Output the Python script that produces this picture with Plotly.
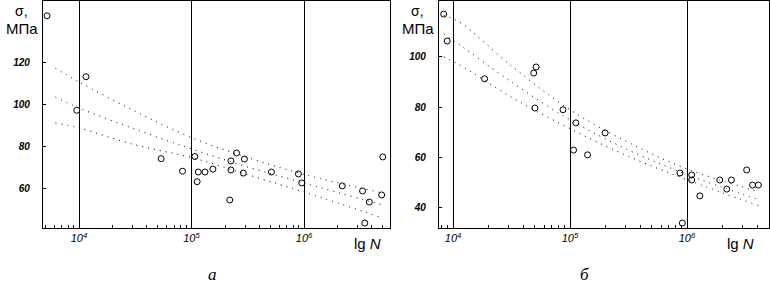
import plotly.graph_objects as go

W, H = 770, 281

# ---------------- Panel a data (lg N, sigma MPa) ----------------
a_lgN = [3.716, 4.062, 3.98, 4.73, 4.92, 5.03, 5.06, 5.12, 5.19, 5.05, 5.35, 5.40,
         5.35, 5.47, 5.46, 5.34, 5.71, 5.98, 5.95, 6.34, 6.52, 6.58, 6.69, 6.70, 6.54]
a_sigma = [142, 113, 97, 74, 68, 75, 67.6, 67.6, 69, 63, 68.6, 76.7,
           72.9, 73.8, 67.1, 54.3, 67.6, 62.4, 66.7, 61.0, 58.6, 53.3, 56.7, 74.8, 43.3]

a_fit_lgN = [3.79, 4.0, 4.5, 5.0, 5.5, 6.0, 6.7]
a_upper = [117, 110.5, 96.5, 84, 74.5, 66.5, 57.6]
a_mid = [103.3, 98.1, 88, 78.6, 70, 62.4, 51.9]
a_lower = [91, 88.6, 80.5, 74.5, 66.3, 58.1, 45.7]

# ---------------- Panel b data ----------------
b_lgN = [3.92, 3.95, 4.27, 4.71, 4.69, 4.70, 4.94, 5.05, 5.03, 5.15, 5.30, 5.94,
         6.04, 6.04, 6.28, 6.38, 6.34, 6.56, 5.96, 6.11, 6.51, 6.61]
b_sigma = [117, 106.3, 91.3, 96, 93.6, 79.7, 79, 73.8, 63, 61.1, 69.8, 53.9,
           53.1, 51.1, 51.1, 51.1, 47.5, 49.1, 34, 44.8, 55.1, 49.1]

b_fit_lgN = [3.92, 4.05, 4.5, 5.0, 5.5, 6.0, 6.62]
b_upper = [116.5, 114, 96.4, 79, 66, 55.5, 46.4]
b_mid = [109, 105, 90, 75, 63, 53.3, 43.2]
b_lower = [100, 97, 84, 71.5, 60.5, 51.2, 40.8]

# ticks
major_vals = [1e4, 1e5, 1e6]
major_text = ["<i>10<sup>4</sup></i>", "<i>10<sup>5</sup></i>", "<i>10<sup>6</sup></i>"]
minor_vals = [m * 10 ** e for e in (3, 4, 5, 6) for m in range(2, 10)]
a_yticks = [60, 80, 100, 120]
b_yticks = [40, 60, 80, 100]

fig = go.Figure()

dot = "1px,5px"


def add_panel(lg, sig, flg, up, mid, lo, xa, ya):
    N = [10 ** v for v in lg]
    fN = [10 ** v for v in flg]
    for s in (up, mid, lo):
        fig.add_trace(go.Scatter(x=fN, y=s, mode="lines", line_shape="spline",
                                 line=dict(color="black", width=1, dash=dot),
                                 xaxis=xa, yaxis=ya, showlegend=False, hoverinfo="skip"))
    fig.add_trace(go.Scatter(x=N, y=sig, mode="markers",
                             marker=dict(symbol="circle-open", size=6, color="black",
                                         line=dict(width=1, color="black")),
                             xaxis=xa, yaxis=ya, showlegend=False))


add_panel(a_lgN, a_sigma, a_fit_lgN, a_upper, a_mid, a_lower, "x", "y")
add_panel(b_lgN, b_sigma, b_fit_lgN, b_upper, b_mid, b_lower, "x2", "y2")

ydom = [(H - 228) / H, 1 - 0.5 / H]


def xaxis(dom, rng, anchor):
    return dict(domain=dom, type="log", range=rng, anchor=anchor, automargin=False,
                tickvals=major_vals, ticktext=major_text,
                ticks="inside", ticklen=3, tickcolor="black",
                showgrid=True, gridcolor="black", gridwidth=1.3,
                showline=True, linecolor="black", linewidth=1.3, mirror=True,
                zeroline=False,
                tickfont=dict(family="Liberation Sans", size=11, color="black"),
                minor=dict(tickvals=minor_vals, ticks="inside", ticklen=3,
                           tickcolor="black", showgrid=False))


def yaxis(rng, ticks, anchor):
    return dict(domain=ydom, range=rng, anchor=anchor, automargin=False,
                tickvals=ticks, ticktext=["<b><i>%d</i></b>" % t for t in ticks],
                ticks="inside", ticklen=3, tickcolor="black",
                showgrid=False, zeroline=False,
                showline=True, linecolor="black", linewidth=1.3, mirror=True,
                ticklabelstandoff=10,
                tickfont=dict(family="Liberation Sans", size=10, color="black"))


ann = []


def txt(px, py, text, size, family="Liberation Sans", yanchor="middle"):
    ann.append(dict(x=px / W, y=1 - py / H, xref="paper", yref="paper", text=text,
                    showarrow=False, xanchor="center", yanchor=yanchor,
                    font=dict(family=family, size=size, color="black")))


txt(21, 11, "σ,", 14)
txt(22, 28, "МПа", 15)
txt(417, 11, "σ,", 14)
txt(418, 28, "МПа", 15)
txt(367, 243, "lg <i>N</i>", 15)
txt(740, 243, "lg <i>N</i>", 15)
txt(213, 286, "<i>а</i>", 17, "Liberation Serif", "bottom")
txt(584, 286, "<i>б</i>", 17, "Liberation Serif", "bottom")

fig.update_layout(
    width=W, height=H,
    margin=dict(l=0, r=0, t=0, b=0),
    paper_bgcolor="white", plot_bgcolor="white",
    xaxis=xaxis([43 / W, 390 / W], [3.68, 6.764], "y"),
    yaxis=yaxis([40.95, 149.3], a_yticks, "x"),
    xaxis2=xaxis([439 / W, 769 / W], [3.88, 6.701], "y2"),
    yaxis2=yaxis([32.05, 122.4], b_yticks, "x2"),
    annotations=ann,
    showlegend=False,
)

fig.write_html("out.html", config={"displayModeBar": False},
               post_script="document.body.style.margin='0';document.body.style.overflow='hidden';")
